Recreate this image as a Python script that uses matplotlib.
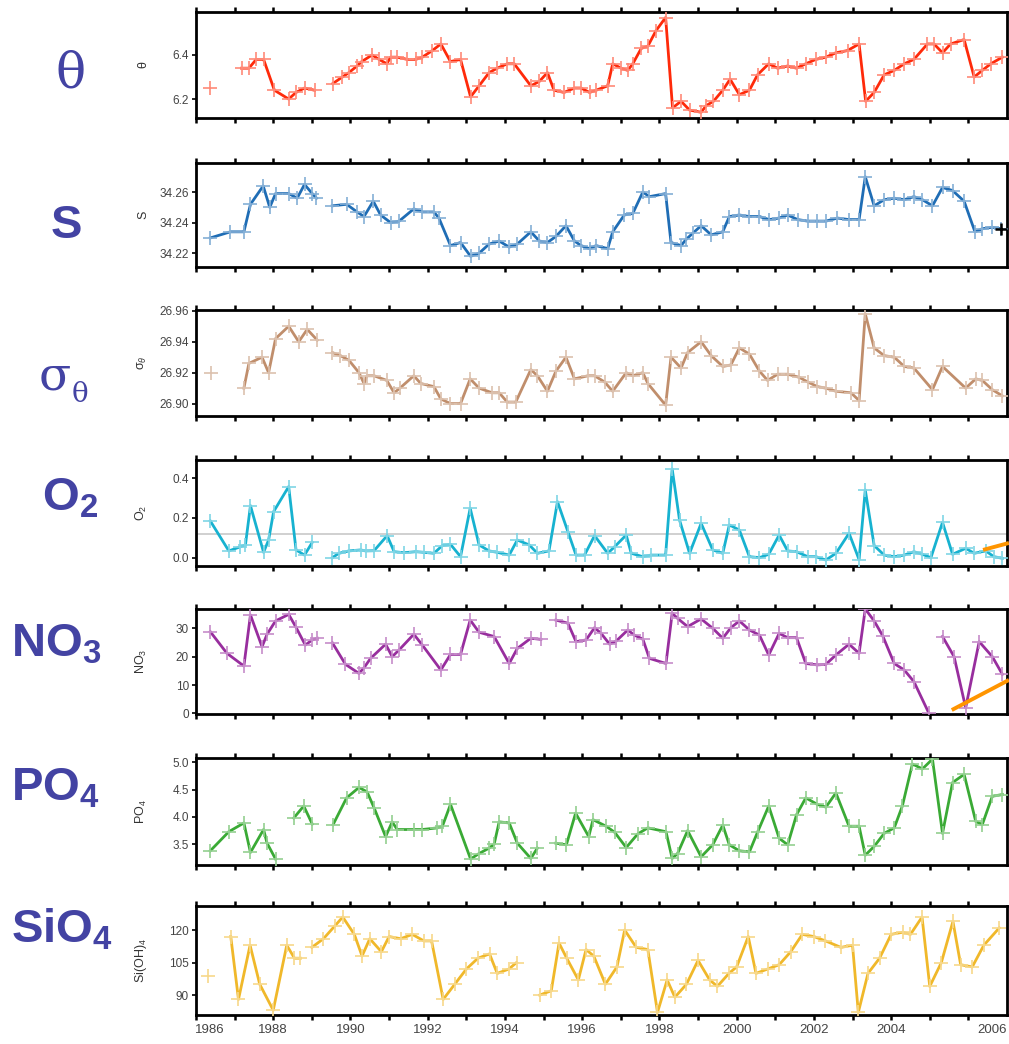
import numpy as np
import matplotlib
matplotlib.use("Agg")
import matplotlib.pyplot as plt
from matplotlib.transforms import ScaledTranslation
import matplotlib.colors as mcolors

plt.rcParams['font.family'] = ['Liberation Sans', 'DejaVu Sans']
plt.rcParams['mathtext.fontset'] = 'custom'
plt.rcParams['mathtext.rm'] = 'Liberation Sans'
plt.rcParams['mathtext.it'] = 'Liberation Sans:italic'
plt.rcParams['mathtext.bf'] = 'Liberation Sans:bold'

nan = np.nan

# ---------------- data ----------------
theta_t = [1986.37, nan, 1987.18, 1987.37, 1987.56, 1987.75, 1988.03, 1988.40, 1988.59, 1988.81, 1989.07, nan,
           1989.54, 1989.79, 1989.96, 1990.17, 1990.29, 1990.56, 1990.74, 1990.94, 1991.04, 1991.21, 1991.47,
           1991.69, 1991.86, 1992.12, 1992.34, 1992.59, 1992.85, 1993.11, 1993.33, 1993.59, 1993.80, 1994.06,
           1994.24, 1994.67, 1994.89, 1995.10, 1995.27, 1995.53, 1995.80, 1995.97, 1996.19, 1996.36, 1996.66,
           1996.79, 1997.01, 1997.18, 1997.31, 1997.53, 1997.70, 1997.91, 1998.16, 1998.34, 1998.56, 1998.78,
           1999.08, 1999.21, 1999.40, 1999.64, 1999.83, 2000.07, 2000.33, 2000.54, 2000.83, 2001.06, 2001.32,
           2001.55, 2001.79, 2002.05, 2002.31, 2002.57, 2002.87, 2003.17, 2003.34, 2003.56, 2003.82, 2004.08,
           2004.34, 2004.59, 2004.94, 2005.11, 2005.33, 2005.54, 2005.89, 2006.15, 2006.36, 2006.58, 2006.88]
theta_v = [6.25, nan, 6.34, 6.34, 6.38, 6.38, 6.24, 6.20, 6.23, 6.25, 6.24, nan,
           6.27, 6.30, 6.32, 6.35, 6.37, 6.40, 6.38, 6.36, 6.39, 6.39, 6.38,
           6.38, 6.39, 6.42, 6.45, 6.37, 6.38, 6.21, 6.26, 6.32, 6.34, 6.36,
           6.36, 6.26, 6.28, 6.32, 6.24, 6.23, 6.25, 6.25, 6.23, 6.24, 6.26,
           6.36, 6.34, 6.33, 6.36, 6.43, 6.44, 6.51, 6.57, 6.16, 6.19, 6.15,
           6.14, 6.17, 6.19, 6.24, 6.29, 6.22, 6.24, 6.31, 6.36, 6.34, 6.35,
           6.34, 6.36, 6.38, 6.39, 6.41, 6.42, 6.45, 6.19, 6.23, 6.31, 6.33,
           6.36, 6.38, 6.45, 6.45, 6.41, 6.45, 6.47, 6.30, 6.33, 6.36, 6.39]

sal_t = [1986.37, 1986.89, 1987.24, 1987.41, 1987.74, 1987.91, 1988.06, 1988.40, 1988.62, 1988.81, 1989.01, 1989.12, nan,
         1989.53, 1989.90, 1990.17, 1990.35, 1990.59, 1990.78, 1991.04, 1991.26, 1991.64, 1991.86, 1992.16, 1992.29,
         1992.59, 1992.85, 1993.11, 1993.33, 1993.59, 1993.85, 1994.11, 1994.32, 1994.67, 1994.89, 1995.10, 1995.32,
         1995.58, 1995.80, 1995.97, 1996.19, 1996.36, 1996.66, 1996.79, 1997.09, 1997.31, 1997.57, 1997.74, 1998.16,
         1998.30, 1998.56, 1998.69, 1998.86, 1999.08, 1999.34, 1999.64, 1999.81, 2000.07, 2000.33, 2000.59, 2000.84,
         2001.10, 2001.32, 2001.58, 2001.84, 2002.09, 2002.31, 2002.61, 2002.91, 2003.17, 2003.33, 2003.56, 2003.82,
         2004.08, 2004.34, 2004.59, 2004.81, 2005.07, 2005.33, 2005.59, 2005.89, 2006.17, 2006.36, 2006.62, 2006.84]
sal_v = [34.230, 34.234, 34.234, 34.252, 34.264, 34.250, 34.259, 34.259, 34.256, 34.265, 34.259, 34.256, nan,
         34.251, 34.252, 34.247, 34.244, 34.254, 34.245, 34.240, 34.241, 34.249, 34.247, 34.247, 34.243,
         34.225, 34.227, 34.218, 34.220, 34.226, 34.228, 34.224, 34.226, 34.234, 34.228, 34.227, 34.231,
         34.238, 34.228, 34.225, 34.223, 34.225, 34.223, 34.234, 34.245, 34.246, 34.260, 34.257, 34.259,
         34.227, 34.225, 34.229, 34.233, 34.238, 34.232, 34.234, 34.244, 34.245, 34.244, 34.244, 34.242,
         34.243, 34.245, 34.242, 34.241, 34.241, 34.241, 34.243, 34.242, 34.242, 34.270, 34.251, 34.255,
         34.256, 34.255, 34.257, 34.255, 34.251, 34.263, 34.261, 34.254, 34.234, 34.236, 34.237, 34.236]
sal_last_t = [2006.84]
sal_last_v = [34.236]

sig_t = [1986.39, nan, 1987.24, 1987.37, 1987.71, 1987.88, 1988.06, 1988.40, 1988.66, 1988.88, 1989.14, nan,
         1989.53, 1989.74, 1989.96, 1990.22, 1990.35, 1990.43, 1990.61, 1990.94, 1991.13, 1991.28, 1991.64,
         1991.82, 1992.16, 1992.34, 1992.59, 1992.85, 1993.10, 1993.33, 1993.67, 1993.85, 1994.06, 1994.28,
         1994.67, 1994.84, 1995.10, 1995.32, 1995.58, 1995.80, 1996.15, 1996.32, 1996.58, 1996.79, 1997.14,
         1997.31, 1997.57, 1997.70, 1998.16, 1998.30, 1998.56, 1998.73, 1999.08, 1999.34, 1999.64, 1999.85,
         2000.07, 2000.33, 2000.59, 2000.80, 2001.06, 2001.32, 2001.62, 2001.84, 2002.09, 2002.31, 2002.57,
         2002.96, 2003.17, 2003.33, 2003.56, 2003.82, 2004.08, 2004.34, 2004.59, 2005.07, 2005.33, 2005.93,
         2006.19, 2006.36, 2006.62, 2006.88]
sig_v = [26.920, nan, 26.910, 26.926, 26.930, 26.920, 26.942, 26.950, 26.940, 26.948, 26.941, nan,
         26.933, 26.931, 26.928, 26.920, 26.913, 26.918, 26.918, 26.915, 26.907, 26.910, 26.918,
         26.913, 26.911, 26.903, 26.900, 26.900, 26.916, 26.910, 26.907, 26.907, 26.901, 26.901,
         26.922, 26.918, 26.908, 26.921, 26.930, 26.916, 26.918, 26.918, 26.914, 26.908, 26.920,
         26.918, 26.920, 26.913, 26.899, 26.930, 26.923, 26.933, 26.940, 26.931, 26.924, 26.925,
         26.936, 26.932, 26.921, 26.915, 26.919, 26.919, 26.917, 26.914, 26.911, 26.910, 26.908,
         26.907, 26.902, 26.958, 26.936, 26.931, 26.930, 26.924, 26.923, 26.909, 26.924, 26.910,
         26.916, 26.915, 26.909, 26.905]

o2_t = [1986.37, 1986.85, 1987.15, 1987.28, 1987.41, 1987.75, 1987.88, 1988.01, 1988.40, 1988.59, 1988.81, 1989.01, nan,
        1989.53, 1989.70, 1989.96, 1990.26, 1990.39, 1990.61, 1990.95, 1991.13, 1991.38, 1991.69, 1991.90, 1992.16,
        1992.38, 1992.59, 1992.85, 1993.10, 1993.33, 1993.59, 1993.80, 1994.11, 1994.32, 1994.63, 1994.84, 1995.14,
        1995.36, 1995.63, 1995.84, 1996.06, 1996.32, 1996.66, 1996.84, 1997.14, 1997.27, 1997.57, 1997.78, 1998.16,
        1998.33, 1998.52, 1998.78, 1999.08, 1999.38, 1999.64, 1999.81, 2000.07, 2000.33, 2000.59, 2000.83, 2001.10,
        2001.32, 2001.55, 2001.84, 2002.05, 2002.31, 2002.57, 2002.91, 2003.17, 2003.33, 2003.56, 2003.82, 2004.08,
        2004.34, 2004.59, 2004.81, 2005.03, 2005.33, 2005.59, 2005.93, 2006.15, 2006.45, 2006.66, 2006.88]
o2_v = [0.185, 0.034, 0.055, 0.064, 0.262, 0.027, 0.089, 0.232, 0.358, 0.039, 0.013, 0.077, nan,
        0.000, 0.022, 0.034, 0.039, 0.034, 0.035, 0.111, 0.030, 0.025, 0.030, 0.027, 0.022,
        0.061, 0.067, 0.005, 0.249, 0.064, 0.034, 0.027, 0.013, 0.089, 0.064, 0.022, 0.034,
        0.282, 0.131, 0.013, 0.013, 0.111, 0.022, 0.055, 0.114, 0.022, 0.005, 0.013, 0.013,
        0.447, 0.190, 0.022, 0.173, 0.039, 0.022, 0.165, 0.139, 0.005, 0.000, 0.017, 0.114,
        0.034, 0.030, 0.005, 0.005, -0.012, 0.022, 0.123, -0.010, 0.341, 0.061, 0.013, 0.005,
        0.013, 0.030, 0.017, 0.000, 0.178, 0.017, 0.047, 0.022, 0.034, 0.005, -0.003]
o2_ref_level = 0.12

no3_t = [1986.37, 1986.80, 1987.24, 1987.41, 1987.71, 1987.84, 1988.06, 1988.40, 1988.58, 1988.83, 1989.01, 1989.14, nan,
         1989.53, 1989.87, 1990.22, 1990.35, 1990.52, 1990.91, 1991.08, 1991.26, 1991.64, 1991.86, 1992.34, 1992.59,
         1992.85, 1993.10, 1993.33, 1993.72, 1994.11, 1994.32, 1994.67, 1994.93, nan,
         1995.32, 1995.63, 1995.84, 1996.10, 1996.32, 1996.49, 1996.71, 1996.88, 1997.18, 1997.35, 1997.57, 1997.74,
         1998.17, 1998.33, 1998.47, 1998.73, 1999.08, 1999.38, 1999.64, 1999.85, 2000.07, 2000.33, 2000.59, 2000.83,
         2001.10, 2001.32, 2001.55, 2001.79, 2002.09, 2002.31, 2002.57, 2002.91, 2003.17, 2003.33, 2003.56, 2003.78,
         2004.08, 2004.34, 2004.59, 2004.98, nan, 2005.33, 2005.63, 2005.93, 2006.28, 2006.62, 2006.88]
no3_v = [28.8, 21.2, 16.7, 34.7, 23.5, 27.9, 32.6, 34.9, 30.6, 24.1, 25.9, 26.5, nan,
         24.9, 17.3, 14.1, 16.1, 19.4, 24.4, 20.0, 22.4, 27.9, 24.1, 15.3, 20.8,
         20.8, 32.9, 28.6, 27.1, 17.6, 22.9, 26.5, 26.1, nan,
         32.9, 31.8, 25.3, 25.9, 30.2, 28.2, 24.4, 25.5, 29.4, 27.6, 26.2, 19.4,
         17.6, 35.3, 33.5, 30.6, 33.3, 30.0, 26.5, 30.2, 32.6, 29.4, 27.6, 20.6,
         28.2, 26.7, 26.7, 17.6, 17.1, 17.3, 20.6, 24.4, 21.2, 36.8, 32.6, 27.4,
         17.6, 15.3, 11.2, 0.0, nan, 27.1, 20.0, 2.0, 25.3, 20.0, 13.8]

po4_t = [1986.37, 1986.85, 1987.24, 1987.41, 1987.75, 1987.84, 1988.06, nan, 1988.53, 1988.79, 1989.01, nan,
         1989.55, 1989.90, 1990.22, 1990.43, 1990.61, 1990.91, 1991.08, 1991.21, 1991.64, 1991.86, 1992.25,
         1992.38, 1992.59, 1993.11, 1993.33, 1993.59, 1993.72, 1993.85, 1994.11, 1994.32, 1994.67, 1994.84, nan,
         1995.32, 1995.59, 1995.83, 1996.17, 1996.28, 1996.62, 1996.84, 1997.14, 1997.44, 1997.70, 1998.17,
         1998.33, 1998.47, 1998.73, 1999.08, 1999.38, 1999.64, 1999.81, 2000.07, 2000.33, 2000.54, 2000.83,
         2001.10, 2001.32, 2001.55, 2001.79, 2002.09, 2002.31, 2002.57, 2002.91, 2003.17, 2003.33, 2003.56,
         2003.82, 2004.08, 2004.29, 2004.55, 2004.81, 2005.07, 2005.33, 2005.59, 2005.89, 2006.19, 2006.36,
         2006.62, 2006.88]
po4_v = [3.38, 3.73, 3.89, 3.35, 3.77, 3.52, 3.23, nan, 3.98, 4.20, 3.87, nan,
         3.86, 4.35, 4.54, 4.46, 4.17, 3.64, 3.91, 3.77, 3.77, 3.77, 3.80,
         3.83, 4.23, 3.23, 3.33, 3.43, 3.50, 3.91, 3.89, 3.52, 3.24, 3.43, nan,
         3.52, 3.49, 4.07, 3.64, 3.95, 3.83, 3.72, 3.44, 3.69, 3.80, 3.73,
         3.24, 3.33, 3.75, 3.27, 3.49, 3.85, 3.49, 3.38, 3.36, 3.72, 4.20,
         3.61, 3.49, 4.04, 4.35, 4.23, 4.18, 4.44, 3.83, 3.83, 3.30, 3.46,
         3.70, 3.80, 4.20, 4.97, 4.88, 5.06, 3.70, 4.63, 4.78, 3.92, 3.86,
         4.38, 4.41]

si_t = [1986.30, nan, 1986.90, 1987.10, 1987.40, 1987.65, 1988.00, 1988.35, 1988.55, 1988.70, nan,
        1989.00, 1989.30, 1989.60, 1989.80, 1990.10, 1990.30, 1990.50, 1990.80, 1991.00, 1991.30, 1991.60,
        1991.90, 1992.10, 1992.40, 1992.70, 1993.00, 1993.30, 1993.60, 1993.80, 1994.10, 1994.30, nan,
        1994.90, 1995.20, 1995.40, 1995.60, 1995.90, 1996.10, 1996.30, 1996.60, 1996.90, 1997.10, 1997.40,
        1997.70, 1997.95, 1998.20, 1998.40, 1998.70, 1999.00, 1999.30, 1999.50, 1999.80, 2000.00, 2000.30,
        2000.50, 2000.80, 2001.10, 2001.40, 2001.70, 2002.00, 2002.30, 2002.70, 2003.00, 2003.15, 2003.40,
        2003.70, 2004.00, 2004.30, 2004.50, 2004.80, 2005.00, 2005.30, 2005.60, 2005.80, 2006.10, 2006.40,
        2006.80]
si_v = [99, nan, 117, 88, 113, 95, 83, 113, 107, 107, nan,
        112, 116, 122, 126, 118, 108, 116, 110, 117, 116, 118,
        115, 115, 88, 95, 102, 107, 109, 100, 102, 105, nan,
        90, 92, 114, 107, 97, 111, 108, 95, 103, 120, 112,
        111, 82, 97, 89, 95, 106, 97, 94, 100, 103, 117,
        100, 102, 104, 110, 118, 117, 115, 112, 113, 82, 100,
        107, 118, 119, 118, 126, 94, 105, 124, 104, 103, 113,
        121]

# orange annotation segments (year, value)
o2_orange_t = [2006.38, 2007.05]
o2_orange_v = [0.039, 0.074]
no3_orange_t = [2005.57, 2007.05]
no3_orange_v = [1.2, 11.8]

year_ticks = list(range(1986, 2007))
year_labels = [str(y) if y % 2 == 0 else '' for y in year_ticks]

# ---------------- layout ----------------
W, H = 1009, 1044
fig = plt.figure(figsize=(W / 100, H / 100), dpi=100)
x0, x1 = 196, 1007

LABEL_COLOR = '#4343a3'
TICK_COLOR = '#444444'

panels = [
    dict(t=theta_t, v=theta_v, color='#ff2a0a', top=12, bot=118, ylim=(6.114, 6.595),
         yticks=[6.2, 6.4], ylabels=['6.2', '6.4'], ylab='θ'),
    dict(t=sal_t, v=sal_v, color='#1f6db5', top=163, bot=267, ylim=(34.211, 34.279),
         yticks=[34.22, 34.24, 34.26], ylabels=['34.22', '34.24', '34.26'], ylab='S'),
    dict(t=sig_t, v=sig_v, color='#c08e6c', top=310, bot=416, ylim=(26.892, 26.9605),
         yticks=[26.90, 26.92, 26.94, 26.96], ylabels=['26.90', '26.92', '26.94', '26.96'], ylab='σ$_θ$'),
    dict(t=o2_t, v=o2_v, color='#17b2d0', top=460, bot=566, ylim=(-0.042, 0.492),
         yticks=[0.0, 0.2, 0.4], ylabels=['0.0', '0.2', '0.4'], ylab='O$_2$'),
    dict(t=no3_t, v=no3_v, color='#982e9e', top=609, bot=714, ylim=(-0.2, 36.8),
         yticks=[0, 10, 20, 30], ylabels=['0', '10', '20', '30'], ylab='NO$_3$'),
    dict(t=po4_t, v=po4_v, color='#3aaa35', top=758, bot=865, ylim=(3.12, 5.08),
         yticks=[3.5, 4.0, 4.5, 5.0], ylabels=['3.5', '4.0', '4.5', '5.0'], ylab='PO$_4$'),
    dict(t=si_t, v=si_v, color='#f0b82a', top=906, bot=1015, ylim=(80.8, 131.1),
         yticks=[90, 105, 120], ylabels=['90', '105', '120'], ylab='Si(OH)$_4$'),
]

axes = []
for i, p in enumerate(panels):
    ax = fig.add_axes([x0 / W, 1 - p['bot'] / H, (x1 - x0) / W, (p['bot'] - p['top']) / H])
    axes.append(ax)
    c = p['color']
    mc = mcolors.to_rgb(c)
    light = tuple(0.55 * np.array(mc) + 0.45)
    ax.plot(p['t'], p['v'], '-', color=c, lw=2.0, zorder=3)
    ax.plot(p['t'], p['v'], '+', color=light, ms=10, mew=1.2, zorder=4)
    ax.set_xlim(1986, 2007)
    ax.set_ylim(*p['ylim'])
    ax.set_yticks(p['yticks'])
    ax.set_yticklabels(p['ylabels'])
    ax.set_xticks(year_ticks)
    for s in ax.spines.values():
        s.set_linewidth(2.0)
        s.set_color('black')
    ax.tick_params(axis='x', which='both', direction='out', length=3.5, width=1.8,
                   top=True, bottom=True, labelbottom=(i == len(panels) - 1), color='black',
                   labelsize=9.5, labelcolor=TICK_COLOR, pad=3)
    ax.tick_params(axis='y', direction='out', length=3, width=1.2, color='black',
                   labelsize=8.5, labelcolor=TICK_COLOR, pad=2)
    ax.set_ylabel(p['ylab'], fontsize=9, color='#333333')
    ax.yaxis.set_label_coords(-0.058, 0.5)

# extra markers / reference lines
axes[1].plot(sal_last_t, sal_last_v, '+', color='black', ms=8, mew=1.8, zorder=5, clip_on=False)
axes[3].axhline(o2_ref_level, color='#c8c8c8', lw=1.2, zorder=1)
axes[3].plot(o2_orange_t, o2_orange_v, '-', color='#ff9500', lw=2.8, zorder=6, clip_on=False,
             solid_capstyle='butt')
axes[4].plot(no3_orange_t, no3_orange_v, '-', color='#ff9500', lw=2.8, zorder=6, clip_on=False,
             solid_capstyle='butt')

# bottom year labels
axb = axes[-1]
axb.set_xticklabels(year_labels)
offsets = {'1986': 14, '2006': 24}
for lab in axb.get_xticklabels():
    dx = offsets.get(lab.get_text(), 0)
    if dx:
        lab.set_transform(lab.get_transform() + ScaledTranslation(dx / 100, 0, fig.dpi_scale_trans))

# big left-hand labels
def ftext(x, y, s, **kw):
    fig.text(x / W, 1 - y / H, s, color=LABEL_COLOR, va='baseline', ha='left', **kw)

SERIF = ['DejaVu Serif', 'Liberation Serif']
ftext(56, 88, 'θ', fontsize=36, family=SERIF)
ftext(51, 238, 'S', fontsize=34, fontweight='bold')
ftext(39, 390, 'σ', fontsize=34, family=SERIF)
ftext(72, 402, 'θ', fontsize=20, family=SERIF)
ftext(42, 511, r'$\mathbf{O_2}$', fontsize=34)
ftext(11, 656, r'$\mathbf{NO_3}$', fontsize=34)
ftext(11, 800, r'$\mathbf{PO_4}$', fontsize=34)
ftext(11, 942, r'$\mathbf{SiO_4}$', fontsize=34)

fig.savefig('out.png', dpi=100)
